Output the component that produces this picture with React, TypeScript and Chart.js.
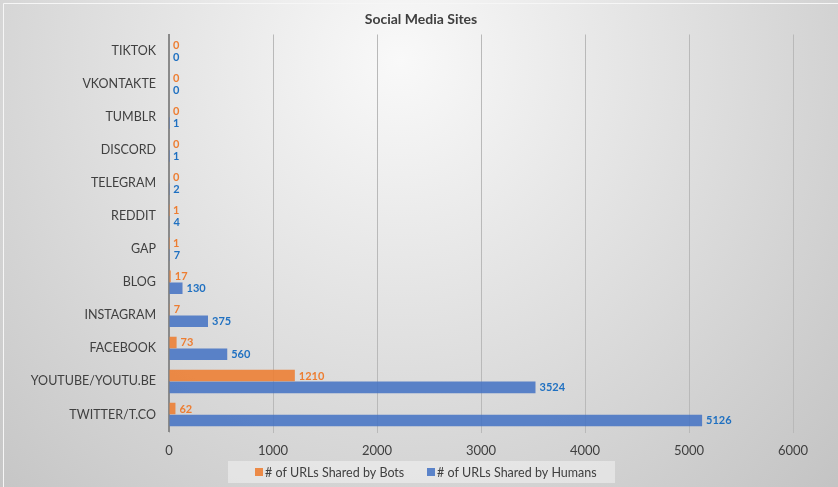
import { useEffect, useRef } from "react";
import { Chart, registerables } from "chart.js";

Chart.register(...registerables);

// Sites, listed top to bottom as drawn on the category axis
const categories = [
  "TIKTOK",
  "VKONTAKTE",
  "TUMBLR",
  "DISCORD",
  "TELEGRAM",
  "REDDIT",
  "GAP",
  "BLOG",
  "INSTAGRAM",
  "FACEBOOK",
  "YOUTUBE/YOUTU.BE",
  "TWITTER/T.CO",
];

const botUrls = [0, 0, 0, 0, 0, 1, 1, 17, 7, 73, 1210, 62];
const humanUrls = [0, 0, 1, 1, 2, 4, 7, 130, 375, 560, 3524, 5126];

const xTicks = [0, 1000, 2000, 3000, 4000, 5000, 6000];

const chartTitle = "Social Media Sites";
const botLabel = "# of URLs Shared by Bots";
const humanLabel = "# of URLs Shared by Humans";

const FONT = "Lato, 'Open Sans', sans-serif";
const BOT_FILL = "rgba(237,125,49,0.88)";
const HUMAN_FILL = "rgba(68,114,196,0.86)";
const BOT_TEXT = "#ED7D31";
const HUMAN_TEXT = "#1F70C1";

// Soft radial backdrop plus a thin light frame line
const backdrop = {
  id: "backdrop",
  beforeDraw(chart: any) {
    const { ctx, width, height } = chart;
    ctx.save();
    const g = ctx.createRadialGradient(400, 60, 0, 400, 60, 640);
    g.addColorStop(0, "#f9f9f9");
    g.addColorStop(1, "#c1c1c1");
    ctx.fillStyle = g;
    ctx.fillRect(0, 0, width, height);
    ctx.strokeStyle = "#f6f6f6";
    ctx.lineWidth = 1;
    ctx.beginPath();
    ctx.moveTo(3.5, height);
    ctx.lineTo(3.5, 3.5);
    ctx.lineTo(width, 3.5);
    ctx.stroke();
    ctx.restore();
  },
};

// Title, value labels and the boxed legend
const decorations = {
  id: "decorations",
  afterDatasetsDraw(chart: any) {
    const { ctx } = chart;
    ctx.save();
    ctx.font = `bold 11px ${FONT}`;
    ctx.textBaseline = "middle";
    ctx.textAlign = "left";
    chart.data.datasets.forEach((ds: any, di: number) => {
      const meta = chart.getDatasetMeta(di);
      ctx.fillStyle = di === 0 ? BOT_TEXT : HUMAN_TEXT;
      meta.data.forEach((bar: any, i: number) => {
        ctx.fillText(String(ds.data[i]), bar.x + 4, bar.y + 0.5);
      });
    });
    ctx.restore();
  },
  afterDraw(chart: any) {
    const { ctx } = chart;
    ctx.save();
    // title
    ctx.fillStyle = "#404040";
    ctx.font = `bold 14px ${FONT}`;
    ctx.textAlign = "center";
    ctx.textBaseline = "middle";
    ctx.fillText(chartTitle, 421, 19);

    // legend box
    ctx.fillStyle = "rgba(255,255,255,0.4)";
    ctx.fillRect(228, 461, 387, 22);
    ctx.font = `12.5px ${FONT}`;
    ctx.textAlign = "left";
    ctx.fillStyle = BOT_FILL;
    ctx.fillRect(255, 468, 8, 8);
    ctx.fillStyle = "#404040";
    ctx.fillText(botLabel, 265, 472.5);
    ctx.fillStyle = HUMAN_FILL;
    ctx.fillRect(427, 468, 8, 8);
    ctx.fillStyle = "#404040";
    ctx.fillText(humanLabel, 437, 472.5);
    ctx.restore();
  },
};

export default function App() {
  const canvasRef = useRef<HTMLCanvasElement | null>(null);

  useEffect(() => {
    document.body.style.margin = "0";
    const canvas = canvasRef.current;
    if (!canvas) return;

    const chart = new Chart(canvas, {
      type: "bar",
      data: {
        labels: categories,
        datasets: [
          {
            label: botLabel,
            data: botUrls,
            backgroundColor: BOT_FILL,
            barPercentage: 0.97,
            categoryPercentage: 0.72,
          },
          {
            label: humanLabel,
            data: humanUrls,
            backgroundColor: HUMAN_FILL,
            barPercentage: 0.97,
            categoryPercentage: 0.72,
          },
        ],
      },
      options: {
        indexAxis: "y",
        responsive: false,
        animation: false,
        devicePixelRatio: 1,
        layout: { padding: { top: 34.5, right: 45, bottom: 0, left: 0 } },
        plugins: {
          legend: { display: false },
          title: { display: false },
          tooltip: { enabled: false },
        },
        scales: {
          x: {
            type: "linear",
            min: xTicks[0],
            max: xTicks[xTicks.length - 1],
            afterBuildTicks(scale: any) {
              scale.ticks = xTicks.map((v) => ({ value: v }));
            },
            afterFit(scale: any) {
              scale.height = 56;
            },
            grid: {
              color: "#b9b9b9",
              lineWidth: 1,
              drawTicks: true,
              tickLength: 2,
            },
            border: { display: false },
            ticks: {
              color: "#404040",
              font: { family: FONT, size: 13 },
              padding: 10,
              maxRotation: 0,
              callback: (v: any) => String(v),
            },
          },
          y: {
            type: "category",
            afterFit(scale: any) {
              scale.width = 169;
            },
            grid: { display: false, drawTicks: false },
            border: { display: true, color: "#8a8a8a", width: 2 },
            ticks: {
              color: "#404040",
              font: { family: FONT, size: 12.5 },
              padding: 13,
            },
          },
        },
      },
      plugins: [backdrop, decorations],
    });

    return () => chart.destroy();
  }, []);

  return (
    <div style={{ width: 838, height: 487, position: "relative" }}>
      <canvas ref={canvasRef} width={838} height={487} style={{ display: "block" }} />
    </div>
  );
}
